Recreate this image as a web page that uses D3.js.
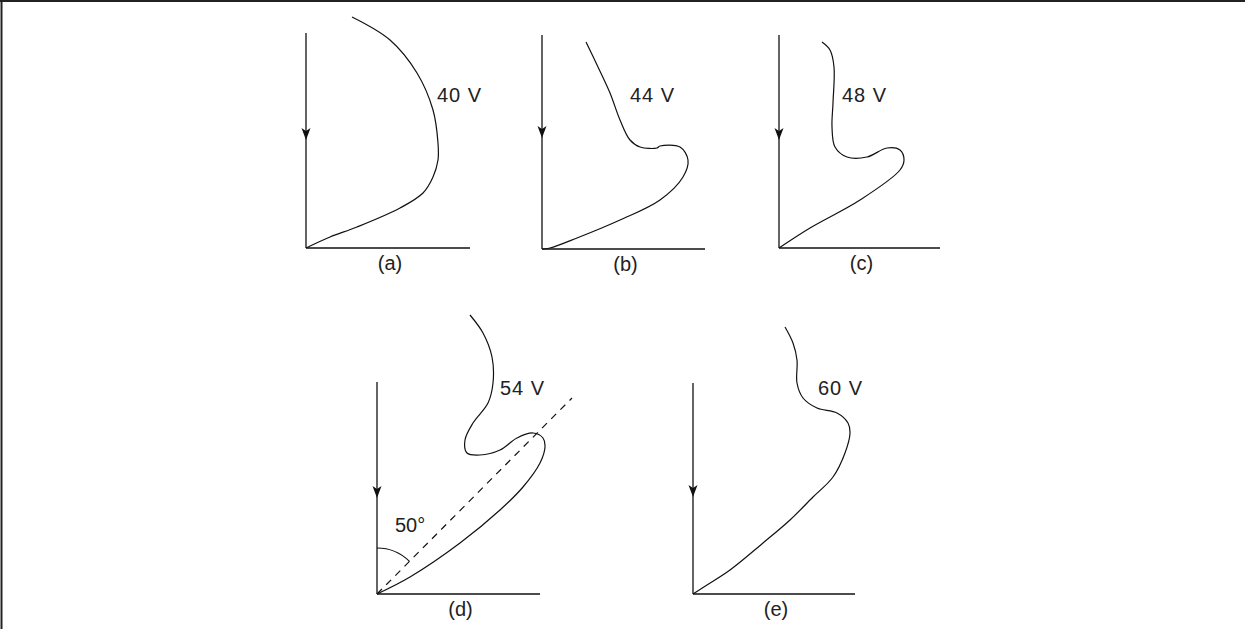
<!DOCTYPE html>
<html>
<head>
<meta charset="utf-8">
<script src="https://cdn.jsdelivr.net/npm/d3@7"></script>
<style>
    body { margin: 0; background: #fff; }
    text { font-family: "Liberation Sans", "DejaVu Sans", sans-serif; fill: #222; }
</style>
</head>
<body>
<svg id="chart" width="1247" height="629"></svg>
<script>
// panel captions and curve labels
const panelLabels = ["(a)", "(b)", "(c)", "(d)", "(e)"];
const voltageLabels = ["40 V", "44 V", "48 V", "54 V", "60 V"];
const angleLabel = "50\u00b0";
const dashAngleEnd = [195, 196];

// curve points, local units: x to the right, y up from the axes corner
const curveA = [[46,231],[84,208],[111,175],[127,138],[132,105],[132,88],[127,71],[117,55],[94,40],[51,21],[24,11],[0,0]];
const curveB = [[44,207],[56,182],[68,156],[78,129],[88,109],[98,102],[115,101],[118,103],[138,102],[146,89],[141,72],[118,49],[78,29],[35,11],[8,1],[0,0]];
const curveC = [[43,206],[51,198],[55,181],[54,145],[53,121],[56,101],[68,91],[88,91],[108,100],[121,98],[125,88],[121,78],[81,48],[31,20],[0,0]];
const curveD = [[93,279],[106,261],[115,237],[116,211],[111,191],[96,171],[88,154],[90,141],[103,139],[123,144],[140,156],[156,161],[166,156],[168,147],[163,131],[146,107],[123,84],[83,51],[33,17],[0,0]];
const curveE = [[92,267],[100,251],[104,234],[104,211],[110,196],[124,186],[144,181],[155,171],[157,161],[152,141],[140,117],[120,97],[97,74],[70,51],[37,24],[14,9],[0,0]];

const curves = [curveA, curveB, curveC, curveD, curveE];

function Layout() {
    // corner of each panel's axes, axis lengths, arrow and label spots
    this.panels = [
        {ox: 306, oy: 248, h: 215, w: 164, arrow: 108, lab: [131, 153]},
        {ox: 542, oy: 249, h: 214, w: 163, arrow: 111, lab: [88, 154]},
        {ox: 779, oy: 248, h: 213, w: 161, arrow: 108, lab: [63, 153]},
        {ox: 377, oy: 594, h: 212, w: 163, arrow: 96, lab: [123, 206]},
        {ox: 693, oy: 594, h: 211, w: 162, arrow: 97, lab: [125, 206]}
    ];
    this.stroke = "#111";
}

const cfg = new Layout();
const svg = d3.select("#chart");

// frame on the top and left edges
svg.append("line").attr("x1", 0).attr("y1", 1).attr("x2", 1245).attr("y2", 1)
    .attr("stroke", "#222").attr("stroke-width", 2);
svg.append("line").attr("x1", 1.5).attr("y1", 0).attr("x2", 1.5).attr("y2", 629)
    .attr("stroke", "#222").attr("stroke-width", 2);

cfg.panels.forEach((p, i) => {
    const x = d3.scaleLinear().domain([0, p.w]).range([p.ox, p.ox + p.w]);
    const y = d3.scaleLinear().domain([0, p.h]).range([p.oy, p.oy - p.h]);
    const g = svg.append("g").attr("class", "panel");

    // axes
    g.append("line")
        .attr("x1", x(0)).attr("y1", y(0)).attr("x2", x(0)).attr("y2", y(p.h))
        .attr("stroke", cfg.stroke).attr("stroke-width", 1.3);
    g.append("line")
        .attr("x1", x(0)).attr("y1", y(0)).attr("x2", x(p.w)).attr("y2", y(0))
        .attr("stroke", cfg.stroke).attr("stroke-width", 1.3);

    // downward arrow head on the vertical axis
    const tx = x(0), ty = y(p.arrow);
    g.append("path")
        .attr("d", `M${tx},${ty} L${tx - 4.5},${ty - 12} L${tx},${ty - 9} L${tx + 4.5},${ty - 12} Z`)
        .attr("fill", cfg.stroke);

    // field curve
    const line = d3.line()
        .x(d => x(d[0]))
        .y(d => y(d[1]))
        .curve(d3.curveCatmullRom.alpha(0.5));
    g.append("path")
        .datum(curves[i])
        .attr("d", line)
        .attr("fill", "none")
        .attr("stroke", cfg.stroke)
        .attr("stroke-width", 1.2);

    g.append("text")
        .attr("x", x(p.lab[0])).attr("y", y(p.lab[1]))
        .attr("dy", "0.36em")
        .attr("font-size", 20)
        .attr("letter-spacing", 1)
        .text(voltageLabels[i]);

    g.append("text")
        .attr("x", x(p.w / 2) + 2).attr("y", y(0) + 15)
        .attr("dy", "0.36em")
        .attr("text-anchor", "middle")
        .attr("font-size", 20)
        .text(panelLabels[i]);

    if (i === 3) {
        // dashed line through the tip of the loop, and the angle mark
        g.append("line")
            .attr("x1", x(0)).attr("y1", y(0))
            .attr("x2", x(dashAngleEnd[0])).attr("y2", y(dashAngleEnd[1]))
            .attr("stroke", cfg.stroke).attr("stroke-width", 1.2)
            .attr("stroke-dasharray", "7,6");
        const r = 46;
        const ang = Math.atan2(dashAngleEnd[0], dashAngleEnd[1]);
        const arc = d3.arc().innerRadius(r).outerRadius(r).startAngle(0).endAngle(ang);
        g.append("path")
            .attr("transform", `translate(${x(0)},${y(0)})`)
            .attr("d", arc())
            .attr("fill", "none")
            .attr("stroke", cfg.stroke)
            .attr("stroke-width", 1.2);
        g.append("text")
            .attr("x", x(18)).attr("y", y(69))
            .attr("dy", "0.36em")
            .attr("font-size", 20)
            .text(angleLabel);
    }
});
</script>
</body>
</html>
